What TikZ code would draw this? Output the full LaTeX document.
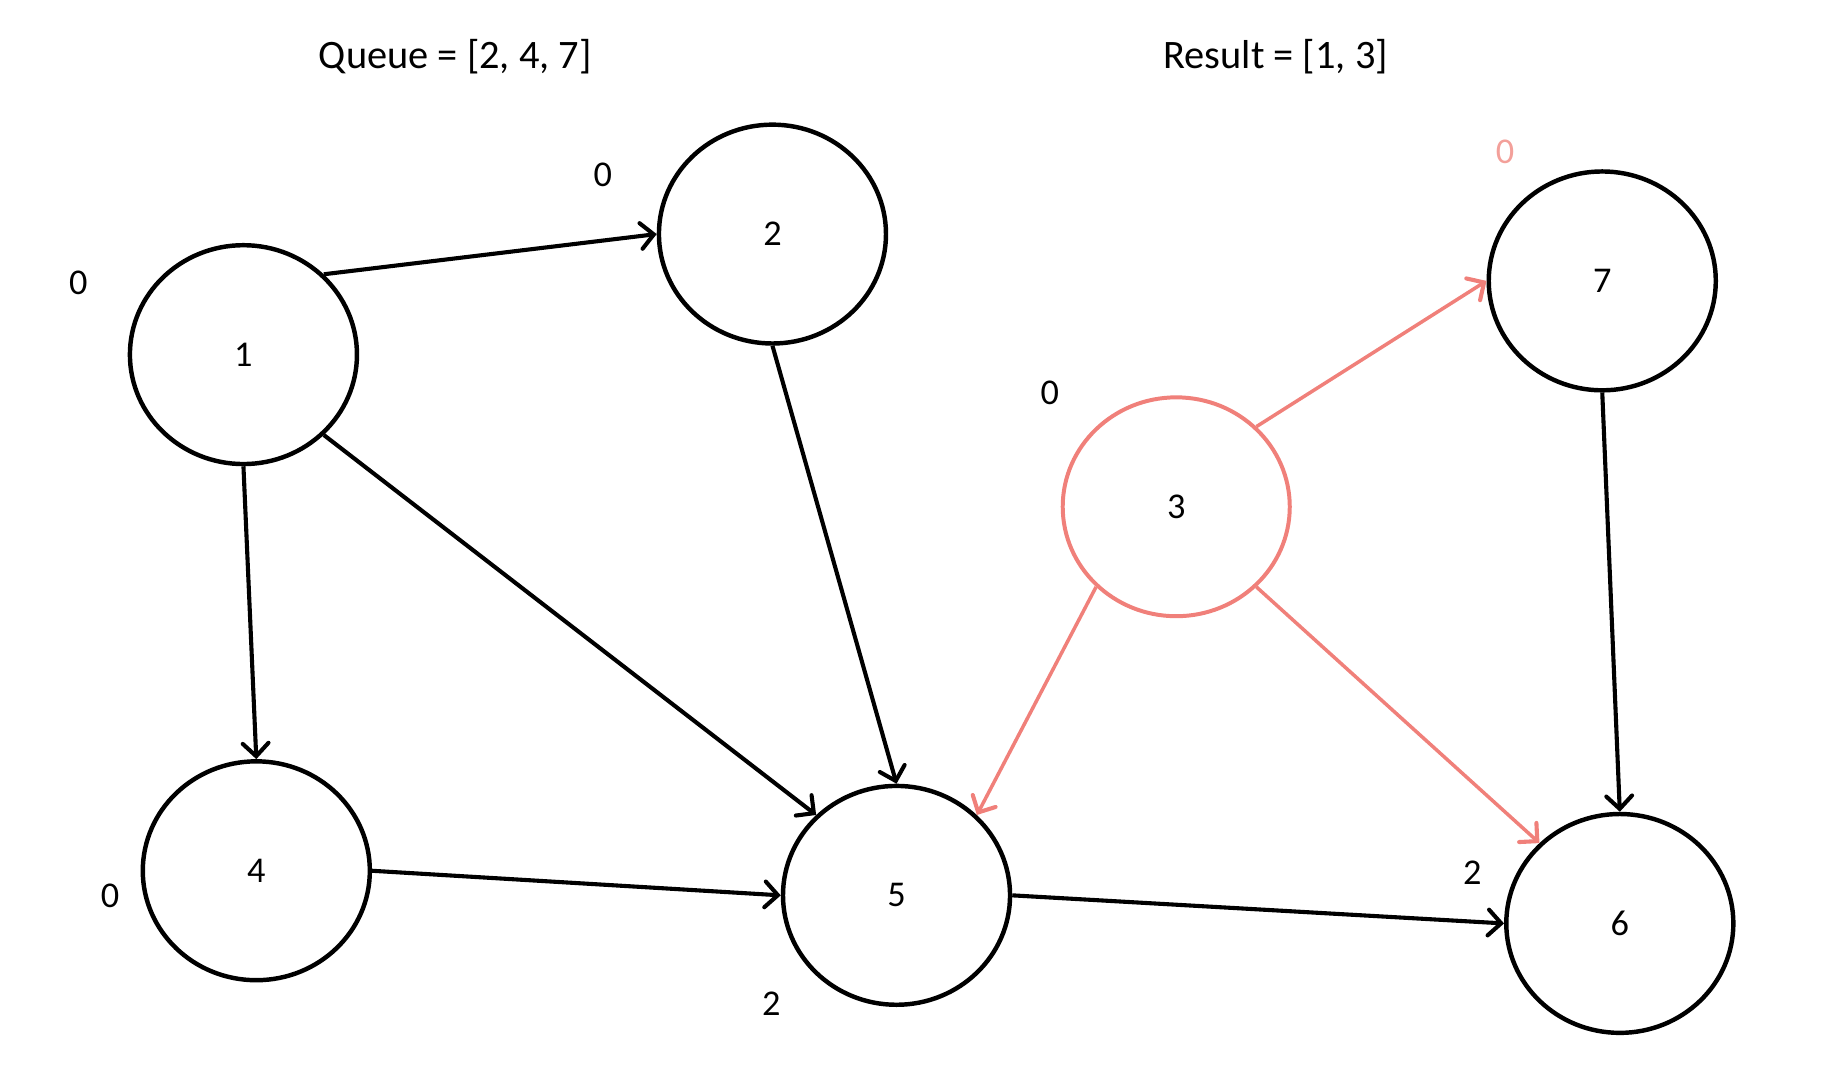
\documentclass[tikz,border=0pt]{standalone}
\usepackage{fontspec}
\setmainfont{Carlito}
\usetikzlibrary{shapes.geometric,arrows.meta}
\definecolor{salmon}{RGB}{240,128,122}
\definecolor{lightsalmon}{RGB}{243,160,154}
\tikzset{
  vert/.style={ellipse, draw=black, line width=3.8pt, minimum width=194pt, minimum height=187pt, inner sep=0pt, font=\fontsize{31}{36}\selectfont},
  hot/.style={draw=salmon, line width=3.4pt},
  lbl/.style={font=\fontsize{31}{36}\selectfont, inner sep=0pt},
  edge/.style={line width=3.5pt, -{Straight Barb[length=11pt,width=22pt,line width=3.5pt,line cap=round]}},
  hotedge/.style={edge, draw=salmon, line width=3pt},
}
\begin{document}
\begin{tikzpicture}[x=1pt,y=-1pt]
\useasboundingbox (0,0) rectangle (1567,933);
\node[lbl, font=\fontsize{34.5}{40}\selectfont] (q) at (389,48) {Queue = [2, 4, 7]};
\node[lbl, font=\fontsize{34.5}{40}\selectfont] (r) at (1090,48) {Result = [1, 3]};

\node[vert] (n1) at (208,303) {1};
\node[vert] (n2) at (660,200) {2};
\node[vert, hot] (n3) at (1005,433) {3};
\node[vert] (n7) at (1369,240) {7};
\node[vert] (n4) at (219,744) {4};
\node[vert] (n5) at (766,765) {5};
\node[vert] (n6) at (1384,789) {6};

\node[lbl] (l1) at (67,242) {0};
\node[lbl] (l2) at (515,149) {0};
\node[lbl] (l3) at (897,336) {0};
\node[lbl, text=lightsalmon] (l7) at (1286,130) {0};
\node[lbl] (l4) at (94,765) {0};
\node[lbl] (l5) at (659,858) {2};
\node[lbl] (l6) at (1258,746) {2};

\draw[edge] (n1.45) -- (n2.west);
\draw[edge] (n1.south) -- (n4.north);
\draw[edge] (n1.-45) -- (n5.135);
\draw[edge] (n2.south) -- (n5.north);
\draw[edge] (n4.east) -- (n5.west);
\draw[edge] (n5.east) -- (n6.west);
\draw[edge] (n7.south) -- (n6.north);
\draw[hotedge] (n3.45) -- (n7.west);
\draw[hotedge] (n3.-135) -- (n5.45);
\draw[hotedge] (n3.-45) -- (n6.135);
\end{tikzpicture}
\end{document}
